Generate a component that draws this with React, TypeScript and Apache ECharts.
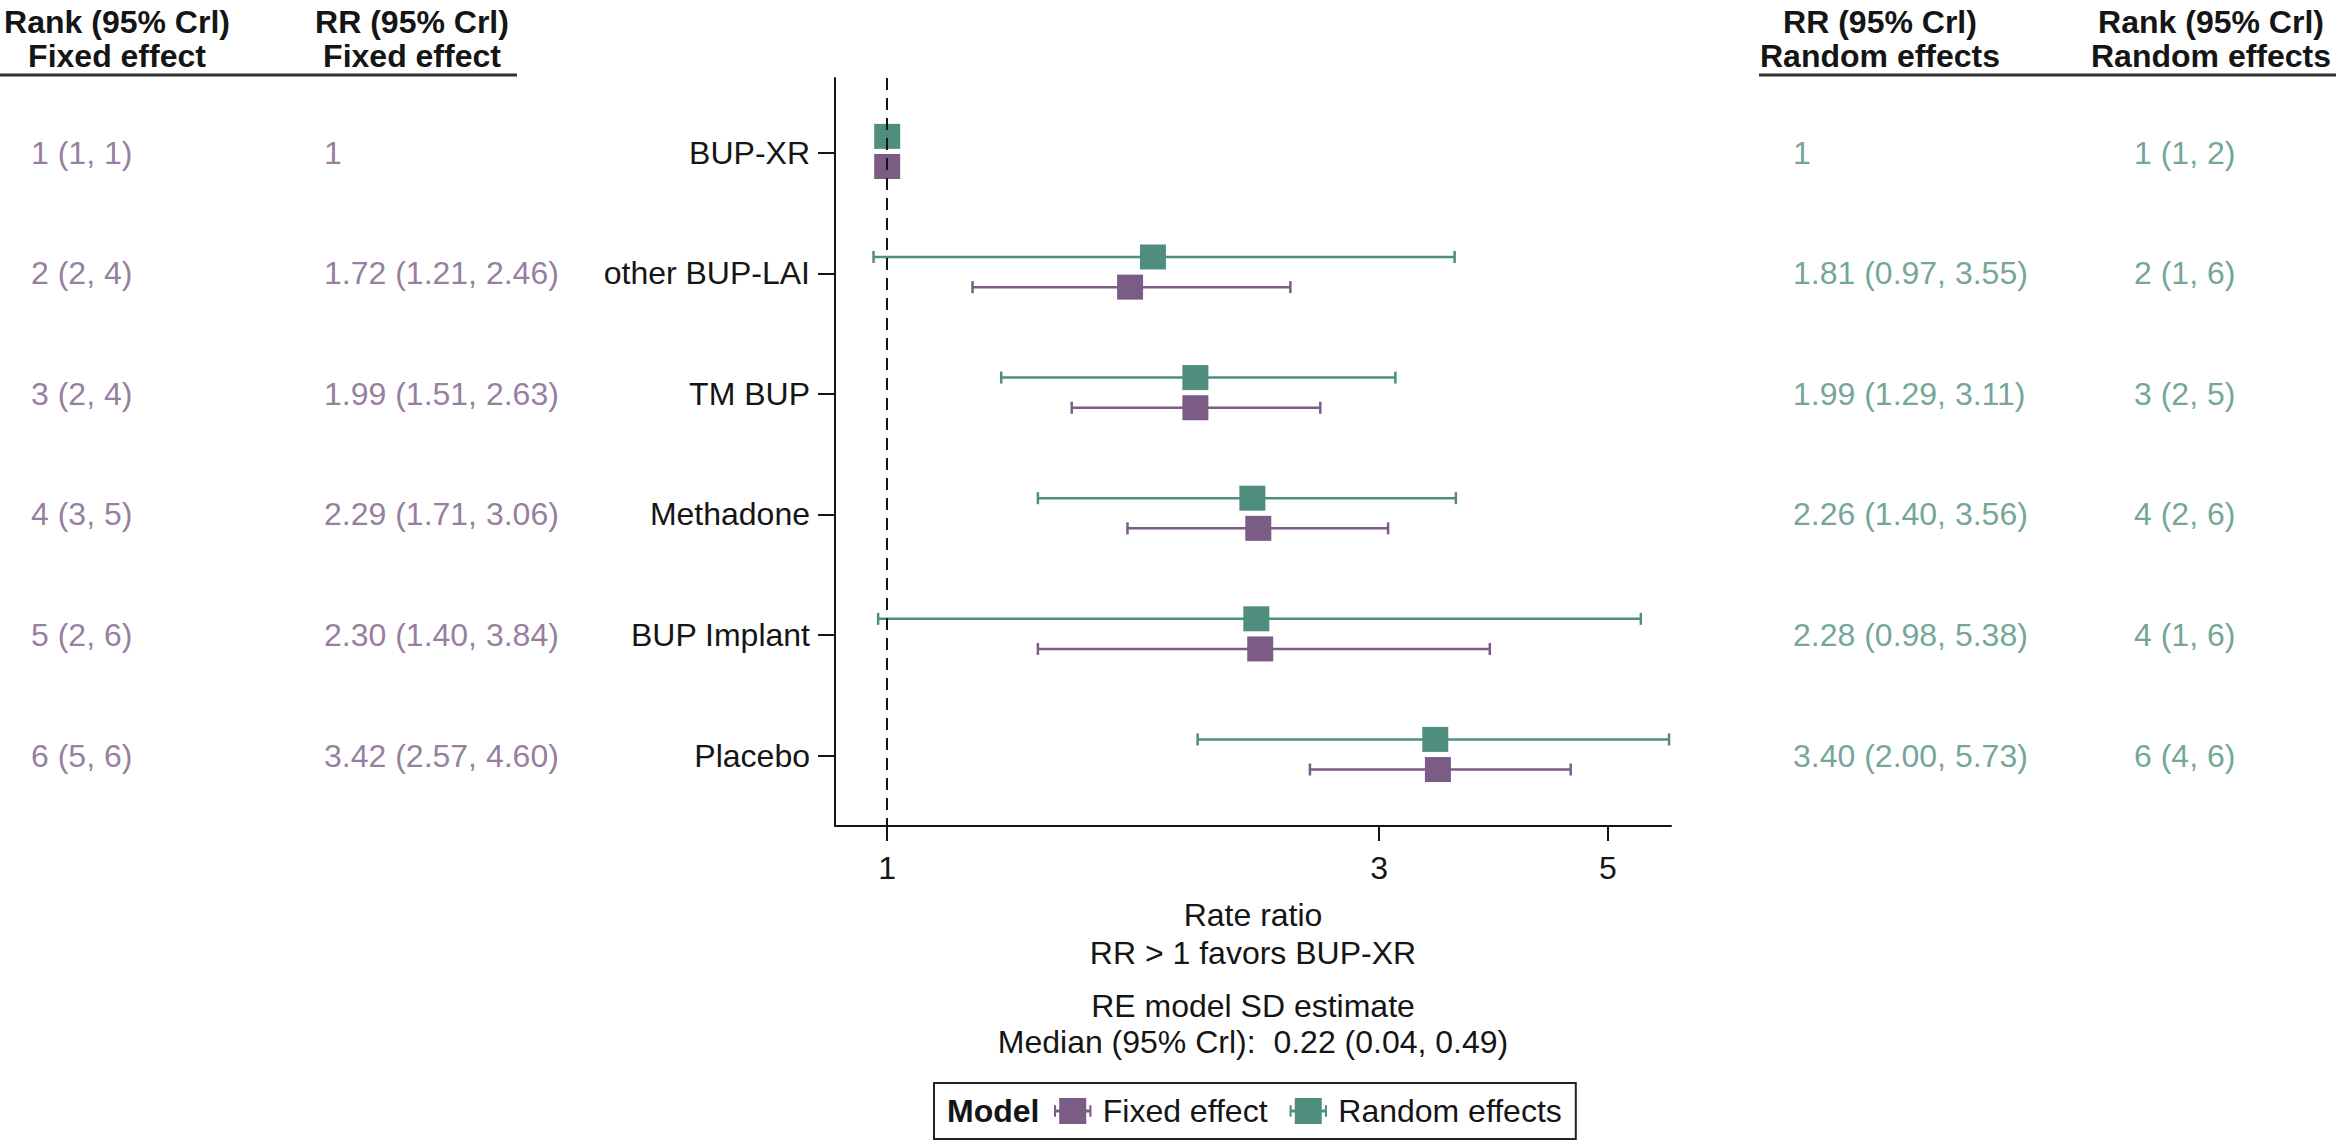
import React, { useEffect, useRef } from 'react';
import * as echarts from 'echarts';

// ---------------- Data ----------------
const treatments = ['BUP-XR', 'other BUP-LAI', 'TM BUP', 'Methadone', 'BUP Implant', 'Placebo'];

const rrFixed = [1, 1.72, 1.99, 2.29, 2.3, 3.42];
const loFixed: (number | null)[] = [null, 1.21, 1.51, 1.71, 1.4, 2.57];
const hiFixed: (number | null)[] = [null, 2.46, 2.63, 3.06, 3.84, 4.6];

const rrRandom = [1, 1.81, 1.99, 2.26, 2.28, 3.4];
const loRandom: (number | null)[] = [null, 0.97, 1.29, 1.4, 0.98, 2.0];
const hiRandom: (number | null)[] = [null, 3.55, 3.11, 3.56, 5.38, 5.73];

const rankFixed = [1, 2, 3, 4, 5, 6];
const rankFixedLo = [1, 2, 2, 3, 2, 5];
const rankFixedHi = [1, 4, 4, 5, 6, 6];

const rankRandom = [1, 2, 3, 4, 4, 6];
const rankRandomLo = [1, 1, 2, 2, 1, 4];
const rankRandomHi = [2, 6, 5, 6, 6, 6];

const xTicks = [1, 3, 5];
const xRange = [0.89, 5.755];

const sdMedian = '0.22';
const sdLo = '0.04';
const sdHi = '0.49';

// ---------------- Style / layout ----------------
const FONT = '"Liberation Sans", Arial, Helvetica, sans-serif';
const FE_COLOR = '#7B5C85';
const RE_COLOR = '#4F8E7E';
const INK = '#151515';
const FS = 32;

const PLOT = { left: 835, top: 78, width: 836, height: 748 };
const Y_MIN = 0.381;
const Y_MAX = 6.583;
const RE_OFF = -0.135;
const FE_OFF = 0.115;

const COLS = [
  { x: 31, color: FE_COLOR },
  { x: 324, color: FE_COLOR },
  { x: 1793, color: RE_COLOR },
  { x: 2134, color: RE_COLOR },
];

const rrText = (rr: number, lo: number | null, hi: number | null) =>
  lo == null || hi == null ? String(rr) : `${rr.toFixed(2)} (${lo.toFixed(2)}, ${hi.toFixed(2)})`;
const rankText = (m: number, lo: number, hi: number) => `${m} (${lo}, ${hi})`;

const colTexts = [
  rankFixed.map((m, i) => rankText(m, rankFixedLo[i], rankFixedHi[i])),
  rrFixed.map((r, i) => rrText(r, loFixed[i], hiFixed[i])),
  rrRandom.map((r, i) => rrText(r, loRandom[i], hiRandom[i])),
  rankRandom.map((m, i) => rankText(m, rankRandomLo[i], rankRandomHi[i])),
];

const LEGEND_ICON =
  'path://M0,11H5V0H31V11H36V14H31V25H5V14H0Z M0,7H2V18H0Z M34,7H36V18H34Z';

const lg = (v: number) => Math.log10(v);

function errorBarSeries(name: string, color: string, lo: (number | null)[], hi: (number | null)[], off: number) {
  const data: number[][] = [];
  lo.forEach((l, i) => {
    const h = hi[i];
    if (l != null && h != null) data.push([lg(l), lg(h), i + 1 + off]);
  });
  return {
    type: 'custom',
    name,
    xAxisIndex: 0,
    yAxisIndex: 0,
    encode: { x: [0, 1], y: 2 },
    silent: true,
    z: 1,
    data,
    renderItem: (params: any, api: any) => {
      const y = api.value(2);
      const p1 = api.coord([api.value(0), y]);
      const p2 = api.coord([api.value(1), y]);
      const cap = 6;
      const st = { stroke: color, lineWidth: 2.5 };
      return {
        type: 'group',
        children: [
          { type: 'line', shape: { x1: p1[0], y1: p1[1], x2: p2[0], y2: p2[1] }, style: st },
          { type: 'line', shape: { x1: p1[0], y1: p1[1] - cap, x2: p1[0], y2: p1[1] + cap }, style: st },
          { type: 'line', shape: { x1: p2[0], y1: p2[1] - cap, x2: p2[0], y2: p2[1] + cap }, style: st },
        ],
      };
    },
  };
}

function squareSeries(name: string, color: string, rr: number[], off: number, withRef: boolean) {
  const s: any = {
    type: 'scatter',
    name,
    xAxisIndex: 0,
    yAxisIndex: 0,
    symbol: 'rect',
    symbolSize: [26, 25],
    itemStyle: { color, opacity: 1 },
    silent: true,
    z: 3,
    data: rr.map((v, i) => [lg(v), i + 1 + off]),
  };
  if (withRef) {
    s.markLine = {
      silent: true,
      symbol: ['none', 'none'],
      label: { show: false },
      z: 10,
      lineStyle: { type: [12, 8], color: INK, width: 2 },
      data: [{ xAxis: lg(1) }],
    };
  }
  return s;
}

export default function App() {
  const ref = useRef<HTMLDivElement>(null);

  useEffect(() => {
    document.body.style.margin = '0';
    if (!ref.current) return;
    const chart = echarts.init(ref.current, null, { renderer: 'svg' });

    const textGrids = COLS.map((c) => ({ left: c.x, top: PLOT.top, width: 200, height: PLOT.height }));

    const option: any = {
      animation: false,
      backgroundColor: '#ffffff',
      textStyle: { fontFamily: FONT },
      grid: [{ ...PLOT }, ...textGrids],
      xAxis: [
        {
          gridIndex: 0,
          type: 'value',
          min: lg(xRange[0]),
          max: lg(xRange[1]),
          axisLine: { show: true, onZero: false, lineStyle: { color: INK, width: 2 } },
          axisTick: { show: true, length: 15, customValues: xTicks.map(lg), lineStyle: { color: INK, width: 2 } },
          axisLabel: {
            show: true,
            customValues: xTicks.map(lg),
            formatter: (v: number) => String(Math.round(Math.pow(10, v))),
            fontSize: FS,
            color: INK,
            margin: 26,
            fontFamily: FONT,
          },
          splitLine: { show: false },
          name: 'Rate ratio\nRR > 1 favors BUP-XR',
          nameLocation: 'middle',
          nameGap: 70,
          nameTextStyle: { fontSize: FS, lineHeight: 38, color: INK, fontFamily: FONT },
        },
        ...COLS.map((_, i) => ({ gridIndex: i + 1, type: 'value', min: 0, max: 1, show: false })),
      ],
      yAxis: [
        {
          gridIndex: 0,
          type: 'value',
          inverse: true,
          min: Y_MIN,
          max: Y_MAX,
          axisLine: { show: true, onZero: false, lineStyle: { color: INK, width: 2 } },
          axisTick: { show: true, length: 17, customValues: [1, 2, 3, 4, 5, 6], lineStyle: { color: INK, width: 2 } },
          axisLabel: {
            show: true,
            customValues: [1, 2, 3, 4, 5, 6],
            formatter: (v: number) => treatments[Math.round(v) - 1] ?? '',
            fontSize: FS,
            color: INK,
            margin: 25,
            fontFamily: FONT,
          },
          splitLine: { show: false },
        },
        ...COLS.map((_, i) => ({
          gridIndex: i + 1,
          type: 'value',
          inverse: true,
          min: Y_MIN,
          max: Y_MAX,
          show: false,
        })),
      ],
      legend: {
        left: 934,
        top: 1083,
        orient: 'horizontal',
        selectedMode: false,
        itemWidth: 38,
        itemHeight: 26,
        itemGap: 22,
        padding: [12, 14, 12, 120],
        borderColor: '#222',
        borderWidth: 2,
        textStyle: { fontSize: FS, color: INK, fontFamily: FONT, padding: [0, 0, 0, 6] },
        data: [
          { name: 'Fixed effect', icon: LEGEND_ICON, itemStyle: { color: FE_COLOR } },
          { name: 'Random effects', icon: LEGEND_ICON, itemStyle: { color: RE_COLOR } },
        ],
      },
      graphic: [
        {
          type: 'text',
          x: 117,
          y: 39,
          style: { text: 'Rank (95% Crl)\nFixed effect', fontSize: FS, fontWeight: 'bold', fontFamily: FONT, fill: INK, align: 'center', verticalAlign: 'middle', lineHeight: 34 },
        },
        {
          type: 'text',
          x: 412,
          y: 39,
          style: { text: 'RR (95% Crl)\nFixed effect', fontSize: FS, fontWeight: 'bold', fontFamily: FONT, fill: INK, align: 'center', verticalAlign: 'middle', lineHeight: 34 },
        },
        {
          type: 'text',
          x: 1880,
          y: 39,
          style: { text: 'RR (95% Crl)\nRandom effects', fontSize: FS, fontWeight: 'bold', fontFamily: FONT, fill: INK, align: 'center', verticalAlign: 'middle', lineHeight: 34 },
        },
        {
          type: 'text',
          x: 2211,
          y: 39,
          style: { text: 'Rank (95% Crl)\nRandom effects', fontSize: FS, fontWeight: 'bold', fontFamily: FONT, fill: INK, align: 'center', verticalAlign: 'middle', lineHeight: 34 },
        },
        { type: 'line', shape: { x1: 0, y1: 75, x2: 517, y2: 75 }, style: { stroke: '#333', lineWidth: 3 } },
        { type: 'line', shape: { x1: 1759, y1: 75, x2: 2336, y2: 75 }, style: { stroke: '#333', lineWidth: 3 } },
        {
          type: 'text',
          x: 1253,
          y: 1024,
          style: {
            text: `RE model SD estimate\nMedian (95% Crl):  ${sdMedian} (${sdLo}, ${sdHi})`,
            fontSize: FS,
            fontFamily: FONT,
            fill: INK,
            align: 'center',
            verticalAlign: 'middle',
            lineHeight: 36,
          },
        },
        {
          type: 'text',
          x: 947,
          y: 1111,
          style: { text: 'Model', fontSize: FS, fontWeight: 'bold', fontFamily: FONT, fill: INK, align: 'left', verticalAlign: 'middle' },
        },
      ],
      series: [
        errorBarSeries('Random effects', RE_COLOR, loRandom, hiRandom, RE_OFF),
        errorBarSeries('Fixed effect', FE_COLOR, loFixed, hiFixed, FE_OFF),
        squareSeries('Random effects', RE_COLOR, rrRandom, RE_OFF, false),
        squareSeries('Fixed effect', FE_COLOR, rrFixed, FE_OFF, true),
        ...COLS.map((c, ci) => ({
          type: 'scatter',
          xAxisIndex: ci + 1,
          yAxisIndex: ci + 1,
          symbolSize: 0,
          silent: true,
          itemStyle: { color: 'transparent' },
          data: treatments.map((_, i) => [0, i + 1]),
          label: {
            show: true,
            position: 'right',
            distance: 0,
            align: 'left',
            verticalAlign: 'middle',
            fontSize: FS,
            fontFamily: FONT,
            color: c.color,
            formatter: (p: any) => colTexts[ci][p.dataIndex],
          },
        })),
      ],
    };

    chart.setOption(option);
    return () => chart.dispose();
  }, []);

  return <div ref={ref} style={{ width: 2336, height: 1140 }} />;
}
